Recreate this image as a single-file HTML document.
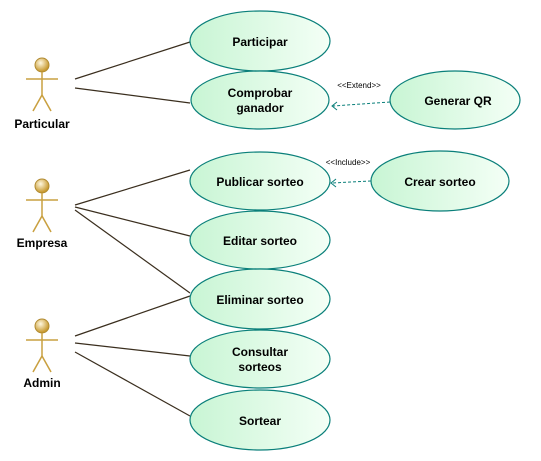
<!DOCTYPE html>
<html><head><style>body{margin:0;background:#fff}svg{display:block}</style></head><body>
<svg width="541" height="461" xmlns="http://www.w3.org/2000/svg" font-family="Liberation Sans, sans-serif">
<defs>
<linearGradient id="g" x1="0" y1="0" x2="1" y2="0"><stop offset="0" stop-color="#c8f5d4"/><stop offset="1" stop-color="#f4fff6"/></linearGradient>
<radialGradient id="h" cx="0.4" cy="0.35" r="0.6"><stop offset="0" stop-color="#fff8e0"/><stop offset="1" stop-color="#c89a30"/></radialGradient>
<g id="actor" stroke="#c9a040" stroke-width="1.5" fill="none">
<circle cx="0" cy="0" r="7" fill="url(#h)" stroke="#b08a30" stroke-width="1"/>
<line x1="0" y1="7" x2="0" y2="30"/><line x1="-16" y1="14" x2="16" y2="14"/>
<line x1="0" y1="30" x2="-9" y2="46"/><line x1="0" y1="30" x2="9" y2="46"/>
</g>
</defs>
<g stroke="#3a2e1e" stroke-width="1.2">
<line x1="75" y1="79" x2="190" y2="42"/><line x1="75" y1="88" x2="190" y2="103"/>
<line x1="75" y1="205" x2="190" y2="170"/><line x1="75" y1="207" x2="190" y2="236"/><line x1="75" y1="210" x2="190" y2="293"/>
<line x1="75" y1="336" x2="190" y2="296"/><line x1="75" y1="343" x2="190" y2="356"/><line x1="75" y1="352" x2="190" y2="416"/>
</g>
<use href="#actor" x="42" y="65"/><use href="#actor" x="42" y="186"/><use href="#actor" x="42" y="326"/>
<g font-size="12" font-weight="bold" text-anchor="middle" fill="#000">
<text x="42" y="128">Particular</text><text x="42" y="247">Empresa</text><text x="42" y="387">Admin</text>
</g>
<g fill="url(#g)" stroke="#0a7f7a" stroke-width="1.2">
<ellipse cx="260" cy="41" rx="70" ry="30"/><ellipse cx="260" cy="100" rx="69" ry="29"/>
<ellipse cx="455" cy="100" rx="65" ry="29"/>
<ellipse cx="260" cy="181" rx="70" ry="29"/><ellipse cx="440" cy="181" rx="69" ry="30"/>
<ellipse cx="260" cy="240" rx="70" ry="29"/><ellipse cx="260" cy="299" rx="70" ry="30"/>
<ellipse cx="260" cy="359" rx="70" ry="29"/><ellipse cx="260" cy="420" rx="70" ry="30"/>
</g>
<g stroke="#0a7f7a" stroke-width="1" fill="none" stroke-dasharray="3,2">
<line x1="390" y1="102" x2="333" y2="106"/><line x1="371" y1="181" x2="332" y2="183"/>
</g>
<g stroke="#0a7f7a" stroke-width="1" fill="none">
<polyline points="337,102 332,106 337,110"/><polyline points="336,179 331,183 336,187"/>
</g>
<g font-size="8" fill="#000" text-anchor="middle">
<text x="359" y="88">&lt;&lt;Extend&gt;&gt;</text><text x="348" y="165">&lt;&lt;Include&gt;&gt;</text>
</g>
<g font-size="12" font-weight="bold" text-anchor="middle" fill="#000">
<text x="260" y="46">Participar</text>
<text x="260" y="97">Comprobar</text><text x="260" y="112">ganador</text>
<text x="458" y="105">Generar QR</text>
<text x="260" y="186">Publicar sorteo</text><text x="440" y="186">Crear sorteo</text>
<text x="260" y="245">Editar sorteo</text><text x="260" y="304">Eliminar sorteo</text>
<text x="260" y="356">Consultar</text><text x="260" y="371">sorteos</text>
<text x="260" y="425">Sortear</text>
</g>
</svg>
</body></html>
